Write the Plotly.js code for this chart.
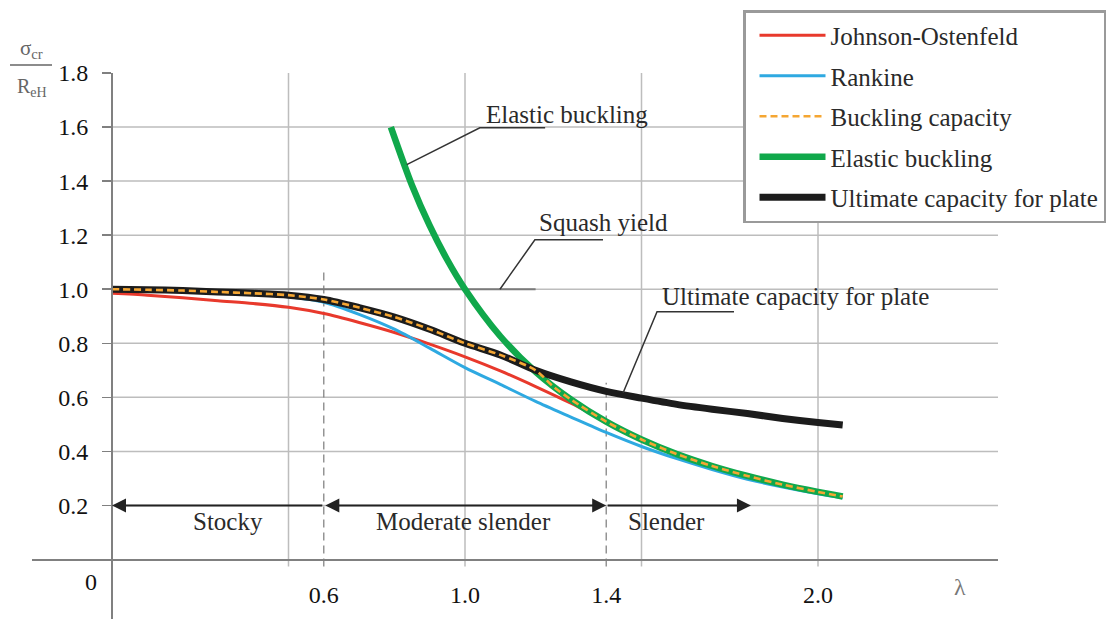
<!DOCTYPE html>
<html>
<head>
<meta charset="utf-8">
<script src="https://cdn.plot.ly/plotly-3.0.1.min.js"></script>
<style>html,body{margin:0;padding:0;background:#fff;}#chart{width:1108px;height:619px;}</style>
</head>
<body>
<div id="chart"></div>
<script>
// ---- data ----
const lambdaJO = [0,0.1,0.2,0.3,0.4,0.5,0.6,0.7,0.8,0.9,1.0,1.1,1.2,1.3,1.41,1.5,1.6,1.7,1.8,1.9,2.0,2.07];
const johnsonOstenfeld = [0.985,0.978,0.968,0.957,0.947,0.933,0.91,0.877,0.84,0.797,0.75,0.698,0.64,0.578,0.503,0.444,0.39,0.346,0.309,0.277,0.25,0.233];

const lambdaRankine = [0,0.1,0.2,0.3,0.4,0.5,0.6,0.7,0.8,0.9,1.0,1.1,1.2,1.3,1.4,1.5,1.6,1.7,1.8,1.9,2.0,2.07];
const rankine = [1.0,0.998,0.995,0.99,0.983,0.972,0.952,0.907,0.852,0.782,0.71,0.648,0.585,0.527,0.47,0.418,0.373,0.333,0.297,0.268,0.243,0.228];

const lambdaBuckling = [0,0.1,0.2,0.3,0.4,0.5,0.6,0.7,0.8,0.9,1.0,1.1,1.2,1.25,1.3,1.4,1.5,1.6,1.7,1.8,1.9,2.0,2.07];
const bucklingCapacity = [1.0,0.998,0.995,0.99,0.985,0.978,0.962,0.932,0.897,0.852,0.80,0.757,0.70,0.64,0.592,0.51,0.444,0.39,0.346,0.309,0.277,0.25,0.233];

const lambdaElastic = [0.79,0.85,0.9,0.95,1.0,1.1,1.2,1.3,1.4,1.5,1.6,1.7,1.8,1.9,2.0,2.07];
const elasticBuckling = [1.6,1.384,1.235,1.108,1.0,0.826,0.694,0.592,0.51,0.444,0.39,0.346,0.309,0.277,0.25,0.233];

const lambdaUltimate = [0,0.1,0.2,0.3,0.4,0.5,0.6,0.7,0.8,0.9,1.0,1.1,1.2,1.3,1.4,1.5,1.6,1.7,1.8,1.9,2.0,2.07];
const ultimatePlate = [1.0,0.998,0.995,0.99,0.985,0.978,0.962,0.932,0.897,0.852,0.80,0.757,0.70,0.657,0.622,0.597,0.574,0.556,0.54,0.522,0.507,0.498];

const xTickVals = [0.6,1.0,1.4,2.0];
const xTickText = ['0.6','1.0','1.4','2.0'];
const yTickVals = [0.2,0.4,0.6,0.8,1.0,1.2,1.4,1.6,1.8];
const yTickText = ['0.2','0.4','0.6','0.8','1.0','1.2','1.4','1.6','1.8'];
const yGridVals = [0.2,0.4,0.6,0.8,1.0,1.2,1.4,1.6];
const xGridVals = [0.5,1.0,1.5,2.0];
const zoneBounds = [0.0,0.6,1.4,1.81];
const zoneNames = ['Stocky','Moderate slender','Slender'];
const zoneCenters = [0.33,0.996,1.572];
const zoneDividerTops = [1.07,0.654];
const squashYield = {lambdaEnd:1.2, value:1.0};

// ---- layout geometry ----
const W = 1108, H = 619;
const mL = 32, mR = 110, mT = 73, mB = 0;
const plotW = W - mL - mR, plotH = H - mT - mB;
const px0 = 112, pxPerUnit = 353;          // lambda = 0 at x=112
const py0 = 559.5;                          // sigma = 0 at y=559.5
const yTop = 1.8;
const pyPerUnit = (py0 - mT) / yTop;
const xMin = -(px0 - mL) / pxPerUnit;
const xMax = (W - mR - px0) / pxPerUnit;
const yMin = -(H - mB - py0) / pyPerUnit;
const FONT = '"Liberation Serif", "Times New Roman", serif';
const txtCol = '#2a2a2a';
const gridCol = '#bdbdbd';
const axisCol = '#808080';

function lineTrace(x, y, name, color, width, dash, rank) {
  return {
    x: x, y: y, name: name, type: 'scatter', mode: 'lines',
    line: {color: color, width: width, dash: dash || 'solid', shape: 'spline', smoothing: 0.8},
    legendrank: rank, legendgroup: 'g' + rank, hoverinfo: 'skip'
  };
}

const traces = [
  lineTrace(lambdaJO, johnsonOstenfeld, 'Johnson-Ostenfeld', '#e8392c', 3, null, 1),
  lineTrace(lambdaRankine, rankine, 'Rankine', '#2ea9e1', 3, null, 2),
  lineTrace(lambdaElastic, elasticBuckling, 'Elastic buckling', '#10a84b', 6.5, null, 4),
  lineTrace(lambdaUltimate, ultimatePlate, 'Ultimate capacity for plate', '#1c1c1c', 7, null, 5),
  lineTrace(lambdaBuckling, bucklingCapacity, 'Buckling capacity', '#f5a632', 2.6, '7px,4px', 3)
];

const shapes = [];
yGridVals.forEach(v => shapes.push({type:'line', xref:'x', yref:'y', x0:0, x1:xMax, y0:v, y1:v,
  line:{color:gridCol, width:1.5}, layer:'below'}));
const tickBelow = -7 / pyPerUnit;
xGridVals.forEach(v => shapes.push({type:'line', xref:'x', yref:'y', x0:v, x1:v, y0:tickBelow, y1:yTop,
  line:{color:gridCol, width:1.5}, layer:'below'}));
[zoneBounds[1], zoneBounds[2]].forEach((v, i) => shapes.push({type:'line', xref:'x', yref:'y', x0:v, x1:v,
  y0:tickBelow, y1:zoneDividerTops[i], line:{color:'#7a7a7a', width:1.2, dash:'8px,5px'}, layer:'below'}));
shapes.push({type:'line', xref:'x', yref:'y', x0:0, x1:squashYield.lambdaEnd, y0:squashYield.value, y1:squashYield.value,
  line:{color:'#7a7a7a', width:2}, layer:'below'});

// leader lines (data coordinates of the callouts)
const leaders = [
  {pts:[[0.835,1.461],[1.042,1.597],[1.227,1.597]], text:'Elastic buckling', tx:1.288, ty:1.646},
  {pts:[[1.099,1.0],[1.198,1.183],[1.391,1.183]], text:'Squash yield', tx:1.391, ty:1.246},
  {pts:[[1.448,0.617],[1.544,0.917],[1.762,0.917]], text:'Ultimate capacity for plate', tx:1.936, ty:0.972}
];
leaders.forEach(l => {
  const d = l.pts.map((p, i) => (i ? 'L' : 'M') + p[0] + ',' + p[1]).join(' ');
  shapes.push({type:'path', xref:'x', yref:'y', path:d, line:{color:'#333', width:1.5}});
});

// y-title fraction bar
shapes.push({type:'line', xref:'paper', yref:'paper',
  x0:(10 - mL) / plotW, x1:(52 - mL) / plotW, y0:(H - mB - 65) / plotH, y1:(H - mB - 65) / plotH,
  line:{color:'#666', width:1.5}});

const annotations = [];
leaders.forEach(l => annotations.push({x:l.tx, y:l.ty, xref:'x', yref:'y', text:l.text, showarrow:false,
  font:{family:FONT, size:25, color:txtCol}}));
zoneNames.forEach((n, i) => annotations.push({x:zoneCenters[i], y:0.139, xref:'x', yref:'y', text:n, showarrow:false,
  font:{family:FONT, size:25, color:txtCol}}));
// zone arrows
const arrowBase = {xref:'x', yref:'y', axref:'x', ayref:'y', text:'', showarrow:true, arrowhead:2,
  arrowsize:1.4, arrowwidth:2, arrowcolor:'#222', y:0.2, ay:0.2, standoff:0, startstandoff:0};
annotations.push(Object.assign({}, arrowBase, {x:zoneBounds[0], ax:zoneBounds[1]}));
annotations.push(Object.assign({}, arrowBase, {x:zoneBounds[2], ax:zoneBounds[1], arrowside:'end+start', startarrowhead:2, startarrowsize:1.4}));
annotations.push(Object.assign({}, arrowBase, {x:zoneBounds[3], ax:zoneBounds[2]}));
// origin label, lambda label
annotations.push({x:(91 - px0) / pxPerUnit, y:(py0 - 582) / pyPerUnit, xref:'x', yref:'y', text:'0', showarrow:false,
  font:{family:FONT, size:24, color:'#111'}});
annotations.push({x:(960 - px0) / pxPerUnit, y:(py0 - 587) / pyPerUnit, xref:'x', yref:'y', text:'λ', showarrow:false,
  font:{family:FONT, size:24, color:'#777'}});
// y title (fraction sigma_cr / R_eH)
annotations.push({x:(31 - mL) / plotW, y:(H - mB - 49) / plotH, xref:'paper', yref:'paper', xanchor:'center', yanchor:'middle',
  text:'σ<sub>cr</sub>', showarrow:false, font:{family:FONT, size:21, color:'#666'}});
annotations.push({x:(32 - mL) / plotW, y:(H - mB - 87) / plotH, xref:'paper', yref:'paper', xanchor:'center', yanchor:'middle',
  text:'R<sub>eH</sub>', showarrow:false, font:{family:FONT, size:20, color:'#666'}});

const layout = {
  width: W, height: H,
  margin: {l:mL, r:mR, t:mT, b:mB, autoexpand:false},
  paper_bgcolor:'#fff', plot_bgcolor:'rgba(0,0,0,0)',
  showlegend: true,
  xaxis: {range:[xMin, xMax], anchor:'free', position:(0 - yMin) / (yTop - yMin),
    showline:true, linecolor:axisCol, linewidth:2, showgrid:false, zeroline:false,
    tickmode:'array', tickvals:xTickVals, ticktext:xTickText, ticks:'', ticklabelstandoff:14,
    tickfont:{family:FONT, size:24, color:'#111'}, fixedrange:true},
  yaxis: {range:[yMin, yTop], anchor:'free', position:(0 - xMin) / (xMax - xMin),
    showline:true, linecolor:axisCol, linewidth:2, showgrid:false, zeroline:false,
    tickmode:'array', tickvals:yTickVals, ticktext:yTickText, ticks:'outside', ticklen:9, tickwidth:1.5,
    tickcolor:axisCol, ticklabelstandoff:9, tickfont:{family:FONT, size:24, color:'#111'}, fixedrange:true},
  legend: {x:(743 - mL) / plotW, y:(H - mB - 10) / plotH, xanchor:'left', yanchor:'top',
    bgcolor:'#fff', bordercolor:'#9a9a9a', borderwidth:2.5, itemwidth:66, indentation:9, tracegroupgap:5,
    font:{family:FONT, size:25, color:txtCol}, traceorder:'grouped'},
  shapes: shapes,
  annotations: annotations
};

Plotly.newPlot('chart', traces, layout, {staticPlot:true, displayModeBar:false});
</script>
</body>
</html>
